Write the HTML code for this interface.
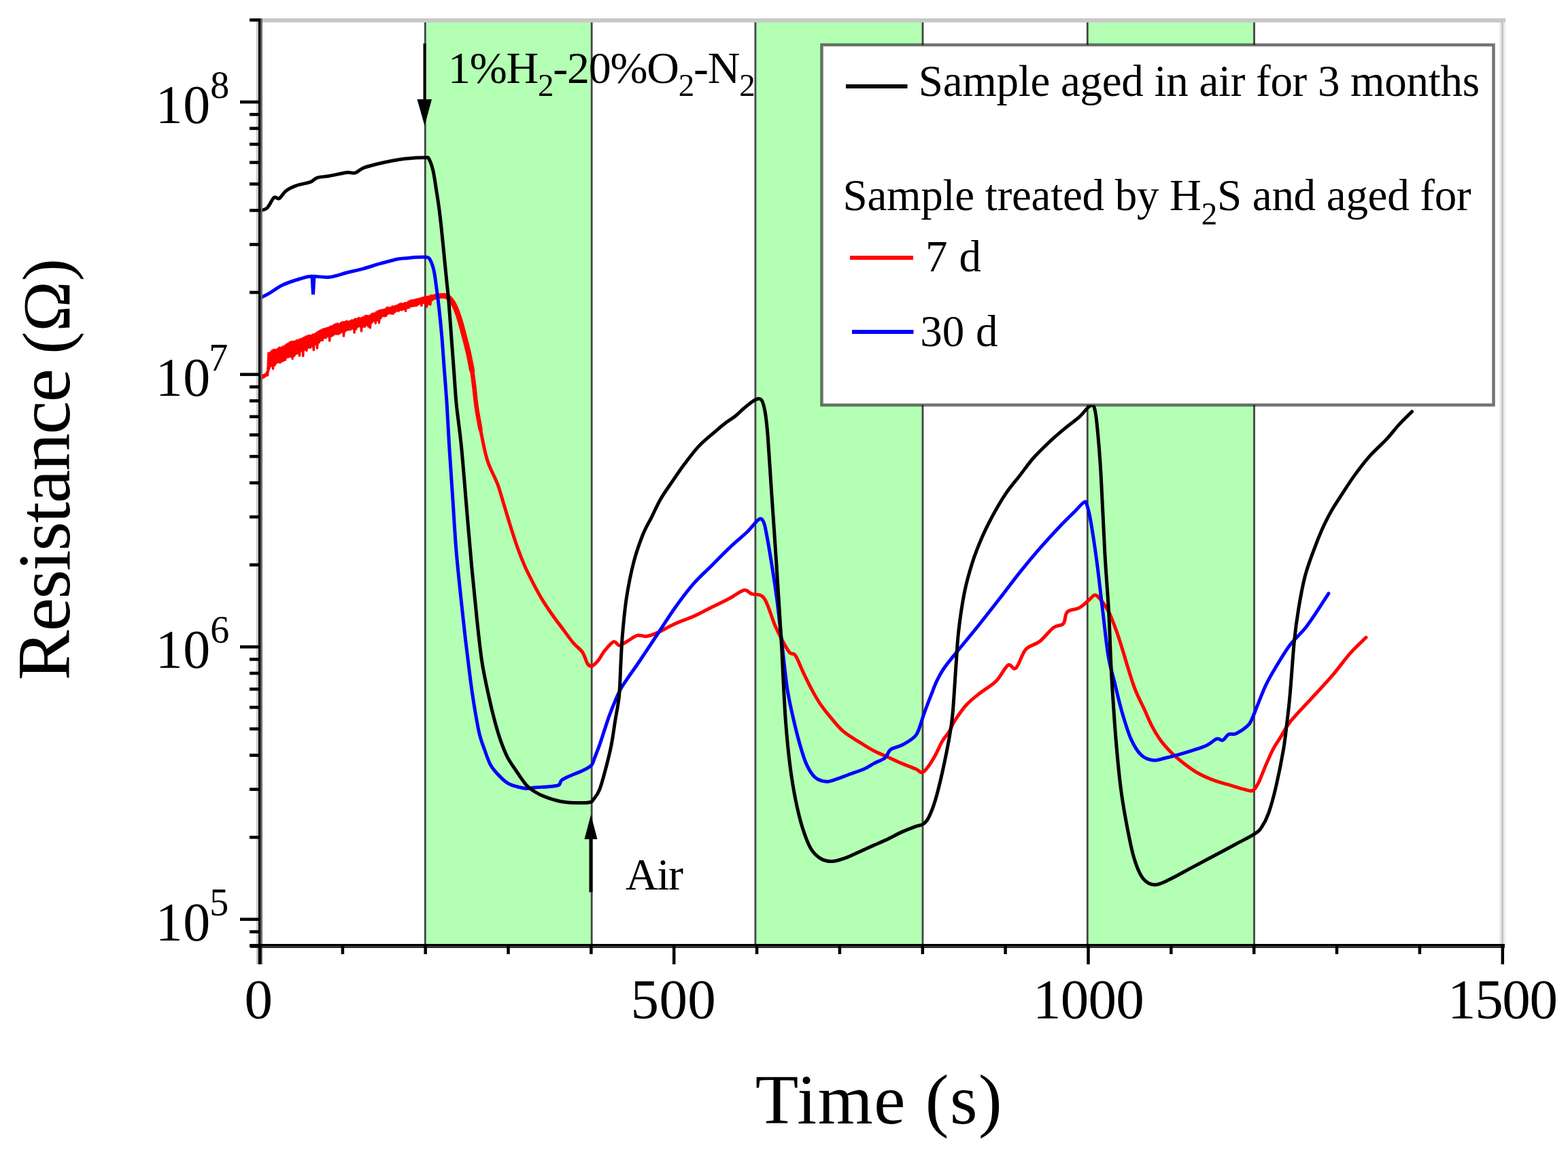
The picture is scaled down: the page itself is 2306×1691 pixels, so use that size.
<!DOCTYPE html><html><head><meta charset="utf-8"><title>Resistance vs Time</title>
<style>html,body{margin:0;padding:0;background:#fff;}svg{display:block;filter:blur(0.5px);}text{font-family:"Liberation Serif","Times New Roman",serif;fill:#000;}</style></head><body>
<svg width="2306" height="1691" viewBox="0 0 2306 1691">
<rect width="2306" height="1691" fill="#fff"/>
<rect x="625.3" y="30" width="244.9" height="1361" fill="#b3ffb3"/>
<rect x="1110.9" y="30" width="246.1" height="1361" fill="#b3ffb3"/>
<rect x="1599.3" y="30" width="245.2" height="1361" fill="#b3ffb3"/>
<line x1="625.3" y1="30" x2="625.3" y2="1391" stroke="#444" stroke-width="2.8"/>
<line x1="870.2" y1="30" x2="870.2" y2="1391" stroke="#444" stroke-width="2.8"/>
<line x1="1110.9" y1="30" x2="1110.9" y2="1391" stroke="#444" stroke-width="2.8"/>
<line x1="1357" y1="30" x2="1357" y2="1391" stroke="#444" stroke-width="2.8"/>
<line x1="1599.3" y1="30" x2="1599.3" y2="1391" stroke="#444" stroke-width="2.8"/>
<line x1="1844.5" y1="30" x2="1844.5" y2="1391" stroke="#444" stroke-width="2.8"/>
<line x1="380" y1="30" x2="2214" y2="30" stroke="#c8c8c8" stroke-width="6"/>
<line x1="2209.5" y1="33" x2="2209.5" y2="1391" stroke="#ececec" stroke-width="9"/>
<line x1="2209.5" y1="33" x2="2209.5" y2="1391" stroke="#c4c4c4" stroke-width="3"/>
<polygon points="380.8,557.5 392.3,549.5 394.6,520.6 401.5,516 414.2,511.4 423.5,505.6 439.6,499.8 450,496.4 465,490.6 476.6,484.2 492.7,478.5 504.3,475 525,469.2 545.8,463.5 557.3,457.1 578.1,450.8 596.6,445.6 617.4,439.2 628.9,436.3 637,435.5 637,436.5 628.9,444.2 619.7,444.2 605.8,450 592,453.4 580.4,458 573.5,460.4 564.3,463.8 548.1,471.9 534.3,478.8 522.7,482.3 513.5,482.3 499.6,488.1 490.4,490.4 478.9,497.3 467.3,503.1 459.2,508.8 450,514.6 439.6,518.1 432.7,524.4 421.2,527.3 409.6,533.1 398.1,540 395.8,546.9 380.8,557.5" fill="#ff0000"/><polyline points="382,555.8 383.3,557.6 384.6,553.5 385.9,556 387.2,551.7 388.5,554.5 389.8,550.6 391.1,552.6 392.4,547.6 393.7,551.6 395,519.3 396.3,540.8 397.6,518.3 398.9,535.7 400.2,515.5 401.5,542.2 402.8,514.3 404.1,536.9 405.4,514.7 406.7,533.7 408,513.4 409.3,532.5 410.6,511.3 411.9,533.2 413.2,511.6 414.5,531.3 415.8,510.1 417.1,530.1 418.4,508.9 419.7,529.1 421,506.8 422.3,524.1 423.6,505.5 424.9,522.7 426.2,503.4 427.5,523.4 428.8,502.5 430.1,527.3 431.4,502.6 432.7,523.2 434,502.1 435.3,520.2 436.6,500.6 437.9,519.5 439.2,500.1 440.5,523.1 441.8,498.9 443.1,515.5 444.4,498 445.7,523.5 447,496.4 448.3,514 449.6,495.1 450.9,515.6 452.2,494.3 453.5,510.8 454.8,493.3 456.1,511.2 457.4,493.8 458.7,509.4 460,492.1 461.3,514.7 462.6,491.8 463.9,506.1 465.2,489.7 466.5,511.9 467.8,487.9 469.1,503.7 470.4,486.6 471.7,500.7 473,485.2 474.3,500.2 475.6,484 476.9,496.5 478.2,483.5 479.5,496.7 480.8,482.6 482.1,494 483.4,481.9 484.7,501.1 486,480.2 487.3,494.3 488.6,479.7 489.9,492.9 491.2,477.9 492.5,491.1 493.8,476.8 495.1,491.1 496.4,476.1 497.7,491 499,476.8 500.3,489.7 501.6,474.8 502.9,487.8 504.2,473.8 505.5,494.1 506.8,473.7 508.1,486.7 509.4,472.3 510.7,485 512,473 513.3,484.8 514.6,472.5 515.9,484.3 517.2,471 518.5,482.8 519.8,471.1 521.1,489 522.4,469 523.7,483.8 525,469.2 526.3,480.5 527.6,467.6 528.9,479.6 530.2,468.2 531.5,487 532.8,467.2 534.1,480.4 535.4,465.9 536.7,480 538,464.2 539.3,477.8 540.6,464.8 541.9,480.2 543.2,464.6 544.5,481.9 545.8,462.7 547.1,474.1 548.4,460.9 549.7,471.5 551,460.9 552.3,475.2 553.6,459 554.9,470.7 556.2,457.5 557.5,474.4 558.8,456.6 560.1,467.8 561.4,455.9 562.7,464.5 564,455.5 565.3,464.7 566.6,454.7 567.9,464.4 569.2,452.2 570.5,461.2 571.8,452.8 573.1,460.5 574.4,452.4 575.7,461.1 577,450.7 578.3,461.2 579.6,450.8 580.9,458.7 582.2,450 583.5,456.8 584.8,449.1 586.1,457.5 587.4,447.3 588.7,455.6 590,446.5 591.3,455.8 592.6,447 593.9,454.2 595.2,445.7 596.5,457.3 597.8,445.6 599.1,452.7 600.4,444 601.7,452.3 603,442.5 604.3,450.6 605.6,441.7 606.9,450 608.2,441.6 609.5,449.6 610.8,440.8 612.1,449.6 613.4,440.1 614.7,448.1 616,439.7 617.3,446.3 618.6,438.9 619.9,449.4 621.2,438 622.5,445.4 623.8,437.5 625.1,445.2 626.4,436.4 627.7,450.9 629,436.5 630.3,446.9 631.6,435.7 632.9,447.9 634.2,434.6 635.5,439.7" fill="none" stroke="#ff0000" stroke-width="3.5" stroke-linejoin="round"/><path d="M633 440 C634.1 439.4 636 437.3 639.4 436.5 C642.8 435.7 649.8 434.6 653.4 435 C657 435.4 658.5 436.3 661.1 438.9 C663.7 441.4 666.2 445 668.7 450.3 C671.2 455.6 673.8 462.6 676.3 470.7 C678.8 478.8 681.8 490.6 683.9 498.6 C686 506.7 687.3 511.4 689 519 C690.7 526.6 693.2 540.2 694.1 544.4" fill="none" stroke="#ff0000" stroke-width="8" stroke-linejoin="round" stroke-linecap="round"/><path d="M689 519 C689.9 523.2 692.7 535.9 694.1 544.4 C695.5 552.9 696.4 560.7 697.5 570 C698.6 579.3 699.5 589.9 701 600 C702.5 610.1 705.6 625.8 706.5 630.9" fill="none" stroke="#ff0000" stroke-width="6.5" stroke-linejoin="round" stroke-linecap="round"/>
<path d="M635 437 C635.7 436.7 636.3 435.8 639.4 435.3 C642.5 434.8 649.8 433.6 653.4 434 C657 434.4 658.5 435.3 661.1 437.9 C663.7 440.4 666.2 444 668.7 449.3 C671.2 454.6 673.8 461.6 676.3 469.7 C678.8 477.8 681.8 489.6 683.9 497.6 C686 505.7 687.3 510.4 689 518 C690.7 525.6 692.7 534.7 694.1 543.4 C695.5 552.1 696.4 560.6 697.5 570 C698.6 579.4 699.5 589.9 701 600 C702.5 610.1 703.9 618.1 706.5 630.9 C709.1 643.7 712.4 663 716.6 676.6 C720.8 690.2 727.6 700.8 731.9 712.2 C736.1 723.7 738.7 734.3 742.1 745.3 C745.5 756.3 748.8 767.8 752.2 778.4 C755.6 789 759 799.6 762.4 808.9 C765.8 818.2 768.8 825.8 772.6 834.3 C776.4 842.8 781.1 851.8 785.3 859.8 C789.5 867.8 793.3 875 798 882.6 C802.7 890.2 808.2 898.3 813.3 905.5 C818.4 912.7 823.4 919.1 828.5 925.9 C833.6 932.7 839.1 940.7 843.8 946.2 C848.5 951.7 853.1 953.9 856.5 958.9 C859.9 963.9 861.8 972.6 864.1 976 C866.4 979.4 868 980 870.5 979.3 C873 978.6 876.2 975.5 879.4 971.7 C882.6 967.9 885.7 961.1 889.6 956.4 C893.5 951.7 899.1 944.9 902.6 943.7 C906.1 942.5 907.5 949 910.6 949 C913.7 949 916.8 946.1 921.3 943.7 C925.8 941.3 932.4 935.7 937.3 934.4 C942.2 933.1 945.7 936.4 950.6 935.7 C955.5 935 959.5 933.5 966.6 930.4 C973.7 927.3 984.3 921 993.2 917 C1002.1 913 1011 910.4 1019.9 906.4 C1028.8 902.4 1037.6 897.5 1046.5 893.1 C1055.4 888.7 1065.2 883.9 1073.2 879.7 C1081.2 875.5 1089.2 868.9 1094.5 867.8 C1099.8 866.7 1100.2 871.1 1105.1 873.1 C1110 875.1 1118 871.9 1123.8 879.7 C1129.6 887.5 1134.9 908.6 1139.8 919.7 C1144.7 930.8 1149.4 939.7 1153.1 946.4 C1156.8 953.1 1158.9 957 1161.7 960 C1164.5 963 1166.6 959 1170 964.1 C1173.4 969.2 1178.2 982.3 1182.3 990.9 C1186.4 999.5 1190.6 1008.1 1194.7 1015.6 C1198.8 1023.1 1202.5 1029.6 1207 1036.1 C1211.5 1042.6 1215.9 1048.2 1221.4 1054.7 C1226.9 1061.2 1232.7 1069 1239.9 1075.2 C1247.1 1081.4 1257 1086.9 1264.6 1091.7 C1272.1 1096.5 1278.3 1100.4 1285.2 1104 C1292.1 1107.6 1299 1110.2 1305.8 1113.3 C1312.6 1116.4 1319.4 1119.7 1326.3 1122.6 C1333.2 1125.5 1341.9 1128.6 1346.9 1130.8 C1351.9 1133 1353.1 1136.6 1356.2 1135.9 C1359.3 1135.2 1362.2 1131 1365.4 1126.7 C1368.7 1122.4 1372.3 1116.4 1375.7 1110.2 C1379.1 1104 1382.6 1095.4 1386 1089.6 C1389.4 1083.8 1393.3 1080.1 1396.3 1075.2 C1399.3 1070.3 1399.8 1066.5 1404 1060 C1408.2 1053.5 1415.1 1043.2 1421.4 1036.3 C1427.7 1029.4 1434.4 1024.6 1441.7 1018.8 C1449 1013 1458.2 1008.2 1465 1001.4 C1471.8 994.6 1477.6 981.2 1482.4 978.1 C1487.2 975 1489.6 986.4 1494 982.5 C1498.4 978.6 1502.8 961.4 1508.6 954.9 C1514.4 948.4 1522.1 948.6 1528.9 943.3 C1535.7 938 1543.4 927.3 1549.2 922.9 C1555 918.5 1560.4 921 1563.8 917.1 C1567.2 913.2 1565.7 903.6 1569.6 899.7 C1573.5 895.8 1581.7 896.8 1587 893.9 C1592.3 891 1597.6 885.4 1601.5 882.2 C1605.4 879.1 1607.4 875 1610.3 875 C1613.2 875 1615.6 878.1 1619 882.2 C1622.4 886.3 1626.7 892 1630.6 899.7 C1634.5 907.5 1638.6 918.7 1642.2 928.7 C1645.8 938.8 1649.5 951.1 1652.3 960 C1655.1 968.9 1655.9 972.7 1658.8 981.8 C1661.7 990.9 1665.7 1004.3 1669.7 1014.5 C1673.7 1024.7 1678.8 1034.1 1682.8 1042.8 C1686.8 1051.5 1689.7 1059.2 1693.7 1066.8 C1697.7 1074.4 1702.1 1082 1706.8 1088.5 C1711.5 1095 1716.6 1100.5 1722 1106 C1727.4 1111.5 1732.9 1116.1 1739.4 1121.2 C1745.9 1126.3 1753.6 1132.1 1761.2 1136.5 C1768.8 1140.9 1777.6 1144.5 1785.2 1147.4 C1792.8 1150.3 1799.7 1151.7 1807 1153.9 C1814.3 1156.1 1823 1159 1828.8 1160.4 C1834.6 1161.9 1838.2 1164 1841.8 1162.6 C1845.4 1161.1 1847.2 1157.9 1850.5 1151.7 C1853.8 1145.5 1857.8 1133.9 1861.4 1125.6 C1865 1117.2 1868.7 1108.5 1872.3 1101.6 C1875.9 1094.7 1879 1090.9 1883.2 1084.2 C1887.4 1077.5 1889.6 1071.1 1897.2 1061.6 C1904.8 1052.1 1918.2 1038.5 1928.7 1027 C1939.2 1015.5 1950.8 1003.3 1960.2 992.3 C1969.7 981.3 1977.3 970.1 1985.4 960.9 C1993.5 951.7 2005.1 941.2 2009 937.3" fill="none" stroke="#ff0000" stroke-width="5" stroke-linejoin="round" stroke-linecap="round"/>
<path d="M382.7 438 C384.8 436.9 389.9 434.9 395.4 431.7 C400.9 428.5 408.2 422.6 415.8 419 C423.4 415.4 434.2 412.1 441.2 410 C448.2 407.9 450.8 406.6 458 406.2 C465.2 405.8 475.8 408.4 484.4 407.5 C493 406.6 501.3 403.1 509.8 401 C518.3 398.9 526.7 397.1 535.2 394.8 C543.7 392.5 552.1 389.5 560.6 387.2 C569.1 384.9 579.4 382.1 586 380.8 C592.6 379.5 595.8 379.9 600 379.5 C604.2 379.1 606.8 378.5 611.5 378.3 C616.2 378.1 624.4 377.5 628 378.3 C631.6 379.1 631.4 379.9 633.1 383.2 C634.8 386.5 636.7 391.6 638.2 398.4 C639.7 405.2 640.7 414.6 642 423.9 C643.3 433.2 644.5 443 645.8 454.4 C647.1 465.8 648.3 477.7 649.6 492.5 C650.9 507.3 652.1 526.4 653.4 543.4 C654.7 560.4 656 575.5 657.2 594.3 C658.4 613.1 659.3 633.2 660.7 656.3 C662.1 679.3 664.1 707.2 665.8 732.6 C667.5 758 668.8 783.5 670.9 808.9 C673 834.3 676.2 863.4 678.5 885.2 C680.8 907.1 682.6 923.4 684.5 940 C686.4 956.6 688.4 972.3 690 985 C691.6 997.7 692.5 1005 694.1 1016.3 C695.8 1027.6 698 1041.7 699.9 1052.6 C701.8 1063.5 703.5 1073.2 705.7 1081.7 C707.9 1090.2 710.3 1096.2 713 1103.5 C715.7 1110.8 718.3 1119.2 721.7 1125.3 C725.1 1131.3 729.2 1135.4 733.3 1139.8 C737.4 1144.2 742 1148.6 746.4 1151.4 C750.8 1154.2 754.9 1155.2 759.5 1156.5 C764.1 1157.8 769.4 1159.2 774 1159.4 C778.6 1159.7 781.2 1158.5 787 1158 C792.8 1157.5 803 1157.1 808.8 1156.5 C814.6 1155.9 819 1155.9 821.9 1154.3 C824.8 1152.7 823.1 1149.4 826.3 1147 C829.4 1144.6 835.5 1142.2 840.8 1139.8 C846.1 1137.4 853.4 1134.9 858.2 1132.5 C863.1 1130.1 867.2 1128.2 869.9 1125.3 C872.6 1122.4 872.3 1119.9 874.2 1115.1 C876.1 1110.2 879.1 1103 881.5 1096.2 C883.9 1089.4 886.3 1081.7 888.7 1074.4 C891.1 1067.1 893.3 1059.9 896 1052.6 C898.7 1045.3 901.8 1037.6 904.7 1030.8 C907.6 1024 910 1018 913.4 1012 C916.8 1006 920.6 1001 925 994.5 C929.4 988 933.1 983.2 940 973 C946.9 962.8 957.7 946.3 966.6 933 C975.5 919.7 984.3 905.4 993.2 893 C1002.1 880.6 1011 868.6 1019.9 858.4 C1028.8 848.2 1037.6 840.7 1046.5 831.8 C1055.4 822.9 1064.3 813.5 1073.2 805.1 C1082.1 796.7 1092.7 788.1 1099.8 781.2 C1106.9 774.3 1112 766.2 1115.8 763.8 C1119.6 761.3 1120.7 763.6 1122.5 766.5 C1124.3 769.4 1124.5 771.2 1126.5 781.2 C1128.5 791.2 1131.8 810.1 1134.4 826.5 C1137.1 842.9 1139.7 859.1 1142.4 879.7 C1145.1 900.3 1147.9 928 1150.4 950 C1152.9 972 1155 994.3 1157.6 1011.4 C1160.2 1028.5 1162.7 1038.9 1165.8 1052.6 C1168.9 1066.3 1172.7 1081.7 1176.1 1093.7 C1179.5 1105.7 1182.6 1116.4 1186.4 1124.6 C1190.2 1132.8 1194 1139 1198.8 1143.1 C1203.6 1147.2 1209.7 1148.9 1215.2 1149.3 C1220.7 1149.7 1226.2 1146.9 1231.7 1145.2 C1237.2 1143.5 1241.6 1141.4 1248.1 1139 C1254.6 1136.6 1264.6 1133.5 1270.8 1130.8 C1277 1128.1 1280.1 1125.3 1285.2 1122.6 C1290.3 1119.8 1297.5 1117.7 1301.6 1114.3 C1305.7 1110.9 1305.8 1105.1 1309.9 1102 C1314 1098.9 1320.5 1098.9 1326.3 1095.8 C1332.1 1092.7 1340.8 1087.3 1344.9 1083.5 C1349 1079.7 1348.6 1079 1351 1073.2 C1353.4 1067.4 1356.2 1057.1 1359.3 1048.5 C1362.4 1039.9 1366.4 1029.6 1369.5 1021.7 C1372.6 1013.8 1374.5 1008 1377.8 1001.2 C1381.1 994.4 1383.6 989.2 1389.4 981 C1395.2 972.8 1404.4 962.2 1412.6 952 C1420.8 941.8 1429.1 932.1 1438.8 920 C1448.5 907.9 1460.6 892.4 1470.8 879.3 C1481 866.2 1490.1 853.7 1499.8 841.6 C1509.5 829.5 1519.2 817.9 1528.9 806.7 C1538.6 795.6 1549.3 783.9 1558 774.7 C1566.7 765.5 1575.2 757.5 1581.2 751.5 C1587.2 745.5 1591.4 739.9 1594.3 738.4 C1597.2 736.9 1596.9 737.6 1598.6 742.7 C1600.3 747.8 1602.1 754.9 1604.5 768.9 C1606.9 782.9 1610.3 805.2 1613.2 827 C1616.1 848.8 1619.1 876.7 1621.9 899.7 C1624.7 922.7 1627.1 947.7 1630 965 C1632.9 982.3 1635.9 989.9 1639.2 1003.6 C1642.5 1017.3 1646.1 1033.3 1650.1 1047.1 C1654.1 1060.9 1658.5 1075.9 1663.2 1086.4 C1667.9 1096.9 1673 1105 1678.4 1110.3 C1683.9 1115.6 1690.1 1117.3 1695.9 1118 C1701.7 1118.7 1707.5 1116 1713.3 1114.7 C1719.1 1113.4 1724.2 1112.1 1730.7 1110.3 C1737.2 1108.5 1745.2 1106.1 1752.5 1103.8 C1759.8 1101.5 1768.1 1099.1 1774.3 1096.2 C1780.5 1093.3 1785.5 1087.7 1789.5 1086.4 C1793.5 1085.1 1795.4 1089.6 1798.3 1088.5 C1801.2 1087.4 1803.7 1081.4 1807 1079.8 C1810.3 1078.2 1813.2 1080.9 1817.9 1078.7 C1822.6 1076.5 1831.3 1070.6 1835.3 1066.8 C1839.3 1063 1839.3 1061.4 1841.8 1055.9 C1844.3 1050.5 1847.2 1042.1 1850.5 1034.1 C1853.8 1026.1 1857.4 1016.2 1861.4 1007.9 C1865.4 999.5 1868.5 993.9 1874.5 984 C1880.5 974.1 1889.2 959 1897.2 948.3 C1905.2 937.6 1913 932.6 1922.4 920 C1931.9 907.4 1948.7 880.6 1953.9 872.7" fill="none" stroke="#0000ff" stroke-width="5" stroke-linejoin="round" stroke-linecap="round"/>
<polyline points="459,406 460.5,433 462,406" fill="none" stroke="#0000ff" stroke-width="5"/>
<path d="M382.7 309.6 C384.4 309 389.5 309 392.9 305.8 C396.3 302.6 400 292.9 403 290.6 C406 288.3 407.7 293.5 410.7 291.8 C413.7 290.1 416.6 283.6 420.8 280.4 C425 277.2 430.1 274.9 436 272.8 C441.9 270.7 451.3 269.6 456.4 267.7 C461.5 265.8 461.9 262.8 466.6 261.3 C471.3 259.8 477.2 260.1 484.4 258.8 C491.6 257.5 503.4 254.5 509.8 253.7 C516.1 252.9 518.3 255.4 522.5 254.2 C526.7 253 528.9 249 535.2 246.6 C541.6 244.2 552.1 241.7 560.6 239.7 C569.1 237.7 577.6 236 586.1 234.7 C594.6 233.4 604.9 232.6 611.5 232.1 C618.1 231.6 622.8 231.7 626 231.8 C629.2 232 628.7 229.8 630.5 233 C632.3 236.2 635 242.8 636.9 250.9 C638.8 259 640.5 272.1 642 281.4 C643.5 290.7 644.5 297.1 645.8 306.8 C647.1 316.6 648.3 328 649.6 339.9 C650.9 351.8 652.1 365.3 653.4 378 C654.7 390.7 656.1 405.6 657.2 416.2 C658.3 426.8 658.7 429 659.8 441.7 C660.9 454.4 662.3 475.6 663.6 492.5 C664.9 509.4 666.1 526.4 667.4 543.4 C668.7 560.4 669.4 575.5 671.2 594.3 C673.1 613.1 676 631.1 678.5 656.3 C681 681.5 683.6 715.6 686.1 745.3 C688.6 775 691.2 806.8 693.8 834.3 C696.3 861.8 698.9 887.3 701.4 910.6 C703.9 933.9 706.1 955.4 709 974.2 C711.9 993 715.7 1009.3 718.8 1023.6 C721.9 1037.9 724.6 1049 727.5 1059.9 C730.4 1070.8 733.1 1080 736.2 1088.9 C739.4 1097.9 742.5 1106.1 746.4 1113.6 C750.3 1121.1 754.9 1127.2 759.5 1134 C764.1 1140.8 769.4 1149.2 774 1154.3 C778.6 1159.4 782.4 1161.6 787 1164.5 C791.6 1167.4 795.5 1169.4 801.6 1171.7 C807.7 1174 816.1 1176.8 823.4 1178.3 C830.7 1179.8 837.9 1180.3 845.2 1180.5 C852.5 1180.7 862.4 1180.5 867 1179.7 C871.6 1178.9 870.4 1178.4 872.8 1175.4 C875.2 1172.4 878.6 1168.8 881.5 1161.6 C884.4 1154.4 887.3 1143.4 890.2 1132.5 C893.1 1121.6 896.5 1108.3 898.9 1096.2 C901.3 1084.1 902.8 1072 904.7 1059.9 C906.6 1047.8 909.1 1037.8 910.5 1023.6 C911.9 1009.5 912.2 990.1 913 975 C913.8 959.9 914.1 948.9 915.5 933 C916.9 917.1 918.5 897.5 921.3 879.7 C924 862 928 842 932 826.5 C936 811 940.9 797.6 945.3 786.5 C949.7 775.4 954.2 768.7 958.6 759.8 C963 750.9 967 741.6 971.9 733.2 C976.8 724.8 982.1 717.6 987.9 709.2 C993.7 700.8 999.8 691.5 1006.5 682.6 C1013.2 673.7 1020.4 663.9 1027.9 655.9 C1035.5 647.9 1045.2 640.4 1051.8 634.6 C1058.4 628.8 1062.9 625.1 1067.8 621.3 C1072.7 617.5 1076.8 615.5 1081.2 612 C1085.7 608.5 1089.6 604 1094.5 600 C1099.4 596 1106.3 590 1110.5 588 C1114.7 586 1117.4 585.1 1119.8 588 C1122.2 590.9 1123.5 596.6 1125.1 605.3 C1126.6 614 1127.5 620.9 1129.1 640 C1130.6 659.1 1132.6 693.3 1134.4 719.9 C1136.2 746.5 1138.1 773.2 1139.9 799.8 C1141.7 826.4 1143.5 854.7 1145.1 879.7 C1146.7 904.7 1148.3 929.8 1149.5 950 C1150.7 970.2 1151 982.4 1152 1001.2 C1153 1020 1154 1042.3 1155.6 1062.9 C1157.2 1083.5 1159.3 1105.8 1161.7 1124.6 C1164.1 1143.4 1166.9 1160.6 1170 1176 C1173.1 1191.4 1176.4 1205.2 1180.2 1217.2 C1184 1229.2 1188.1 1240.5 1192.6 1248 C1197.1 1255.5 1201.8 1259.4 1207 1262.5 C1212.2 1265.6 1217.3 1266.8 1223.5 1266.6 C1229.7 1266.4 1237.2 1263.8 1244 1261.4 C1250.8 1259 1257.7 1255.3 1264.6 1252.2 C1271.5 1249.1 1278.3 1246 1285.2 1242.9 C1292.1 1239.8 1299 1237 1305.8 1233.7 C1312.6 1230.5 1319.4 1226.5 1326.3 1223.4 C1333.2 1220.3 1341.8 1217 1347 1215.1 C1352.2 1213.2 1354.1 1214 1357.2 1212 C1360.3 1210 1362.3 1208.8 1365.4 1202.8 C1368.5 1196.8 1372.3 1187.3 1375.7 1176 C1379.1 1164.7 1382.6 1150.3 1386 1134.9 C1389.4 1119.5 1393.8 1097.7 1396.3 1083.5 C1398.8 1069.3 1399.5 1066.1 1401 1050 C1402.5 1033.9 1404 1007.1 1405.4 986.9 C1406.9 966.7 1407.5 948.1 1409.7 928.7 C1411.9 909.3 1415.1 887.6 1418.5 870.6 C1421.9 853.6 1425.8 840.6 1430.1 827 C1434.4 813.4 1439.3 801.3 1444.6 789.2 C1449.9 777.1 1456.2 765 1462 754.4 C1467.8 743.8 1473.2 734.5 1479.5 725.3 C1485.8 716.1 1493 707.9 1499.8 699.2 C1506.6 690.5 1512.9 681.2 1520.2 673 C1527.5 664.8 1535.7 657 1543.4 649.7 C1551.2 642.4 1559.4 635.5 1566.7 629.4 C1574 623.3 1581.2 618.6 1587 613.4 C1592.8 608.2 1597.9 600.6 1601.5 598 C1605.1 595.4 1606.8 593.7 1608.8 598 C1610.8 602.3 1611.5 607.2 1613.2 623.6 C1614.9 640 1617.1 664.7 1619 696.2 C1620.9 727.7 1622.9 778.6 1624.8 812.5 C1626.7 846.4 1629.1 871.8 1630.6 899.7 C1632.1 927.6 1632.9 958.3 1634 980 C1635.1 1001.7 1635.8 1011.5 1637 1030 C1638.2 1048.5 1639.6 1069.7 1641.4 1090.7 C1643.2 1111.7 1645.4 1136 1647.9 1156 C1650.4 1176 1653.3 1193 1656.6 1210.5 C1659.9 1228 1663.5 1247.2 1667.5 1260.7 C1671.5 1274.2 1675.5 1284.5 1680.6 1291.2 C1685.7 1297.9 1691.5 1300.7 1698 1301 C1704.5 1301.3 1710.7 1297.5 1719.8 1293.3 C1728.9 1289.1 1741.6 1281.7 1752.5 1275.9 C1763.4 1270.1 1774.3 1264.3 1785.2 1258.5 C1796.1 1252.7 1808.1 1246.3 1817.9 1241 C1827.7 1235.7 1837.8 1230.9 1844 1226.9 C1850.2 1222.9 1851.3 1222.4 1854.9 1217.1 C1858.5 1211.8 1862.2 1205.5 1865.8 1195.3 C1869.4 1185.1 1873.1 1171.6 1876.7 1156 C1880.3 1140.4 1884.9 1117.6 1887.6 1101.6 C1890.3 1085.6 1891.4 1073.5 1893 1060 C1894.6 1046.5 1895.5 1040.4 1897.2 1020.7 C1899 1001 1901.4 963 1903.5 942 C1905.6 921 1907.2 910.5 1909.8 894.8 C1912.4 879 1915.5 861.7 1919.2 847.5 C1922.9 833.3 1927.6 821.3 1931.8 809.8 C1936 798.3 1940.2 787.8 1944.4 778.3 C1948.6 768.8 1952.3 761.5 1957 753.1 C1961.7 744.7 1967 736.8 1972.8 727.9 C1978.6 719 1984.8 709 1991.6 699.6 C1998.4 690.2 2005.8 680.2 2013.7 671.3 C2021.6 662.4 2031.6 654 2038.9 646.1 C2046.2 638.2 2051.4 630.9 2057.7 624.1 C2064 617.3 2073.4 608.4 2076.6 605.2" fill="none" stroke="#000" stroke-width="5" stroke-linejoin="round" stroke-linecap="round"/>
<rect x="377" y="27" width="3" height="1391" fill="#c8c8c8"/>
<rect x="383.5" y="27" width="2.5" height="1391" fill="#707070"/>
<rect x="380" y="27" width="3.5" height="1391" fill="#000"/>
<rect x="368" y="1388" width="1845" height="3.2" fill="#000"/>
<rect x="368" y="1391.2" width="1845" height="2.8" fill="#2a2a2a"/>
<line x1="367" y1="1390.6" x2="382" y2="1390.6" stroke="#000" stroke-width="4.6"/>
<line x1="367" y1="1370.1" x2="382" y2="1370.1" stroke="#000" stroke-width="4.6"/>
<line x1="353" y1="1351.8" x2="382" y2="1351.8" stroke="#000" stroke-width="4.6"/>
<line x1="367" y1="1231.2" x2="382" y2="1231.2" stroke="#000" stroke-width="4.6"/>
<line x1="367" y1="1160.7" x2="382" y2="1160.7" stroke="#000" stroke-width="4.6"/>
<line x1="367" y1="1110.6" x2="382" y2="1110.6" stroke="#000" stroke-width="4.6"/>
<line x1="367" y1="1071.8" x2="382" y2="1071.8" stroke="#000" stroke-width="4.6"/>
<line x1="367" y1="1040.1" x2="382" y2="1040.1" stroke="#000" stroke-width="4.6"/>
<line x1="367" y1="1013.3" x2="382" y2="1013.3" stroke="#000" stroke-width="4.6"/>
<line x1="367" y1="990" x2="382" y2="990" stroke="#000" stroke-width="4.6"/>
<line x1="367" y1="969.5" x2="382" y2="969.5" stroke="#000" stroke-width="4.6"/>
<line x1="353" y1="951.2" x2="382" y2="951.2" stroke="#000" stroke-width="4.6"/>
<line x1="367" y1="830.6" x2="382" y2="830.6" stroke="#000" stroke-width="4.6"/>
<line x1="367" y1="760.1" x2="382" y2="760.1" stroke="#000" stroke-width="4.6"/>
<line x1="367" y1="710" x2="382" y2="710" stroke="#000" stroke-width="4.6"/>
<line x1="367" y1="671.2" x2="382" y2="671.2" stroke="#000" stroke-width="4.6"/>
<line x1="367" y1="639.5" x2="382" y2="639.5" stroke="#000" stroke-width="4.6"/>
<line x1="367" y1="612.7" x2="382" y2="612.7" stroke="#000" stroke-width="4.6"/>
<line x1="367" y1="589.4" x2="382" y2="589.4" stroke="#000" stroke-width="4.6"/>
<line x1="367" y1="568.9" x2="382" y2="568.9" stroke="#000" stroke-width="4.6"/>
<line x1="353" y1="550.6" x2="382" y2="550.6" stroke="#000" stroke-width="4.6"/>
<line x1="367" y1="430" x2="382" y2="430" stroke="#000" stroke-width="4.6"/>
<line x1="367" y1="359.5" x2="382" y2="359.5" stroke="#000" stroke-width="4.6"/>
<line x1="367" y1="309.4" x2="382" y2="309.4" stroke="#000" stroke-width="4.6"/>
<line x1="367" y1="270.6" x2="382" y2="270.6" stroke="#000" stroke-width="4.6"/>
<line x1="367" y1="238.9" x2="382" y2="238.9" stroke="#000" stroke-width="4.6"/>
<line x1="367" y1="212.1" x2="382" y2="212.1" stroke="#000" stroke-width="4.6"/>
<line x1="367" y1="188.8" x2="382" y2="188.8" stroke="#000" stroke-width="4.6"/>
<line x1="367" y1="168.3" x2="382" y2="168.3" stroke="#000" stroke-width="4.6"/>
<line x1="353" y1="150" x2="382" y2="150" stroke="#000" stroke-width="4.6"/>
<line x1="367" y1="29.4" x2="382" y2="29.4" stroke="#000" stroke-width="4.6"/>
<line x1="382" y1="1391" x2="382" y2="1418" stroke="#000" stroke-width="4.5"/>
<line x1="503.9" y1="1391" x2="503.9" y2="1403" stroke="#000" stroke-width="4.5"/>
<line x1="625.7" y1="1391" x2="625.7" y2="1403" stroke="#000" stroke-width="4.5"/>
<line x1="747.5" y1="1391" x2="747.5" y2="1403" stroke="#000" stroke-width="4.5"/>
<line x1="869.4" y1="1391" x2="869.4" y2="1403" stroke="#000" stroke-width="4.5"/>
<line x1="991.2" y1="1391" x2="991.2" y2="1418" stroke="#000" stroke-width="4.5"/>
<line x1="1113.1" y1="1391" x2="1113.1" y2="1403" stroke="#000" stroke-width="4.5"/>
<line x1="1234.9" y1="1391" x2="1234.9" y2="1403" stroke="#000" stroke-width="4.5"/>
<line x1="1356.8" y1="1391" x2="1356.8" y2="1403" stroke="#000" stroke-width="4.5"/>
<line x1="1478.6" y1="1391" x2="1478.6" y2="1403" stroke="#000" stroke-width="4.5"/>
<line x1="1600.5" y1="1391" x2="1600.5" y2="1418" stroke="#000" stroke-width="4.5"/>
<line x1="1722.3" y1="1391" x2="1722.3" y2="1403" stroke="#000" stroke-width="4.5"/>
<line x1="1844.2" y1="1391" x2="1844.2" y2="1403" stroke="#000" stroke-width="4.5"/>
<line x1="1966" y1="1391" x2="1966" y2="1403" stroke="#000" stroke-width="4.5"/>
<line x1="2087.9" y1="1391" x2="2087.9" y2="1403" stroke="#000" stroke-width="4.5"/>
<line x1="2209.8" y1="1391" x2="2209.8" y2="1418" stroke="#000" stroke-width="4.5"/>
<rect x="1208.5" y="66" width="988" height="529.5" fill="#fff" stroke="#000" stroke-opacity="0.55" stroke-width="4.5"/>
<line x1="1244" y1="127" x2="1334.5" y2="127" stroke="#000" stroke-width="6"/>
<line x1="1250" y1="379" x2="1343" y2="379" stroke="#ff0000" stroke-width="6"/>
<line x1="1253" y1="488" x2="1343.5" y2="488" stroke="#0000ff" stroke-width="6"/>
<text x="659.0" y="122.2" font-size="66" textLength="451.8" lengthAdjust="spacing">1%H<tspan font-size="47" dy="18.5">2</tspan><tspan dy="-18.5">-20%O</tspan><tspan font-size="47" dy="18.5">2</tspan><tspan dy="-18.5">-N</tspan><tspan font-size="47" dy="18.5">2</tspan></text>
<text x="920.0" y="1308.0" font-size="66" textLength="85.0" lengthAdjust="spacing">Air</text>
<text x="1350.8" y="140.6" font-size="65" textLength="825.2" lengthAdjust="spacing">Sample aged in air for 3 months</text>
<text x="1239.6" y="308.8" font-size="65" textLength="924.0" lengthAdjust="spacing">Sample treated by H<tspan font-size="47" dy="21.5">2</tspan><tspan dy="-21.5">S and aged for</tspan></text>
<text x="1361.0" y="399.4" font-size="65" textLength="81.9" lengthAdjust="spacing">7 d</text>
<text x="1353.2" y="509.4" font-size="65" textLength="114.2" lengthAdjust="spacing">30 d</text>
<text x="1110.8" y="1652.0" font-size="104" textLength="362.8" lengthAdjust="spacing">Time (s)</text>
<text x="228.8" y="181.0" font-size="80" textLength="80.4" lengthAdjust="spacing">10</text>
<text x="309.2" y="144.0" font-size="56">8</text>
<text x="228.8" y="581.6" font-size="80" textLength="80.4" lengthAdjust="spacing">10</text>
<text x="307.2" y="544.6" font-size="56">7</text>
<text x="228.8" y="982.2" font-size="80" textLength="80.4" lengthAdjust="spacing">10</text>
<text x="309.2" y="945.2" font-size="56">6</text>
<text x="228.8" y="1382.8" font-size="80" textLength="80.4" lengthAdjust="spacing">10</text>
<text x="308.2" y="1345.8" font-size="56">5</text>
<text x="359.5" y="1497.0" font-size="83">0</text>
<text x="927.5" y="1497.0" font-size="83" textLength="125.3" lengthAdjust="spacing">500</text>
<text x="1519.0" y="1497.0" font-size="83" textLength="163.8" lengthAdjust="spacing">1000</text>
<text x="2129.0" y="1497.0" font-size="83" textLength="162.0" lengthAdjust="spacing">1500</text>
<text transform="rotate(-90)" x="-1000.5" y="101.5" font-size="111" textLength="458.5" lengthAdjust="spacing">Resistance</text>
<text transform="rotate(-90)" x="-520.8" y="101.5" font-size="100" textLength="140.5" lengthAdjust="spacing">(&#937;)</text>
<line x1="624.5" y1="64" x2="624.5" y2="150" stroke="#000" stroke-width="4"/>
<polygon points="613.5,146 635,146 624.5,185" fill="#000"/>
<line x1="869" y1="1312" x2="869" y2="1230" stroke="#000" stroke-width="5"/>
<polygon points="859.5,1234 878.5,1234 869,1198" fill="#000"/>
</svg></body></html>
